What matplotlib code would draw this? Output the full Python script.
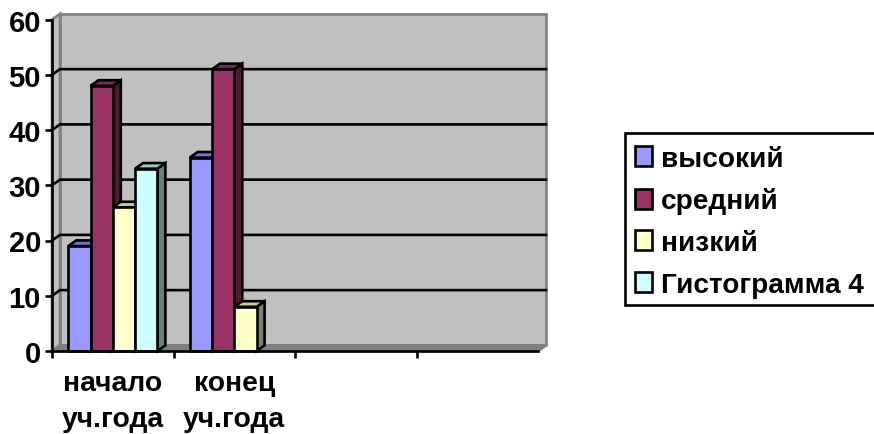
import numpy as np
import matplotlib
matplotlib.use("Agg")
import matplotlib.pyplot as plt
from matplotlib.patches import Patch, Polygon, Rectangle

plt.rcParams['font.family'] = ['Liberation Sans', 'DejaVu Sans']
plt.rcParams['font.weight'] = 'bold'

# data
categories = ["начало\nуч.года", "конец\nуч.года", "", ""]
series_names = ["высокий", "средний", "низкий", "Гистограмма 4"]
vysokiy = [19, 35]
sredniy = [48, 51]
nizkiy = [26, 8]
gistogramma4 = [33, np.nan]
y_ticks = [0, 10, 20, 30, 40, 50, 60]

series = [vysokiy, sredniy, nizkiy, gistogramma4]
colors = ["#9999FF", "#993366", "#FFFFCC", "#CCFFFF"]
tops = ["#7474C8", "#7A2850", "#C8C8A0", "#99CCCC"]
sides = ["#4D4D80", "#4D1A33", "#808066", "#668080"]

W, H = 874, 435
fig = plt.figure(figsize=(W / 100, H / 100), dpi=100)
ax = fig.add_axes([52 / W, 1 - 352 / H, 486 / W, 331.5 / H])
ax.set_xlim(0, 4)
ax.set_ylim(0, 60)
ax.patch.set_visible(False)

# fake 3d depth, in data units
dx = 8 / 121.5
dy = 5.6 / 5.525
lw = 1.9

# walls
ax.add_patch(Polygon([(dx, dy), (4 + dx, dy), (4 + dx, 60 + dy), (dx, 60 + dy)],
                     fc="#C0C0C0", ec="#808080", lw=lw, clip_on=False, zorder=1))
ax.add_patch(Polygon([(0, 0), (dx, dy), (dx, 60 + dy), (0, 60)],
                     fc="#C0C0C0", ec="#808080", lw=lw, clip_on=False, zorder=1))
ax.add_patch(Polygon([(0, 0), (4, 0), (4 + dx, dy), (dx, dy)],
                     fc="#808080", ec="#808080", lw=lw, clip_on=False, zorder=1.5))

# gridlines run over the side wall and the back wall
for v in y_ticks[1:-1]:
    ax.plot([0, dx, 4 + dx], [v, v + dy, v + dy], color="black", lw=lw,
            clip_on=False, zorder=2, solid_joinstyle="miter")

# bars
bar_w = 22.3 / 121.5
start = 16.2 / 121.5
for i, (vals, c, t, s) in enumerate(zip(series, colors, tops, sides)):
    pos = np.arange(len(vals)) + start + i * bar_w
    for x0, v in zip(pos, vals):
        if np.isnan(v):
            continue
        x1 = x0 + bar_w
        z = 3 + i * 0.1
        ax.add_patch(Polygon([(x1, 0), (x1 + dx, dy), (x1 + dx, v + dy), (x1, v)],
                             fc=s, ec="black", lw=lw, zorder=z, clip_on=False))
        ax.add_patch(Polygon([(x0, v), (x1, v), (x1 + dx, v + dy), (x0 + dx, v + dy)],
                             fc=t, ec="black", lw=lw, zorder=z, clip_on=False))
    ax.bar(pos, vals, width=bar_w, align="edge", color=c, edgecolor="black",
           linewidth=lw, zorder=3 + i * 0.1 + 0.05, clip_on=False)

# axes
for name in ["top", "right"]:
    ax.spines[name].set_visible(False)
for name in ["left", "bottom"]:
    ax.spines[name].set_linewidth(lw)
    ax.spines[name].set_zorder(6)
ax.set_yticks(y_ticks)
ax.set_xticks(np.arange(0, 4))
ax.set_xticklabels([])
ax.set_xticks(np.arange(len(categories)) + 0.5, minor=True)
ax.set_xticklabels(categories, minor=True, fontsize=20.3, linespacing=1.5)
ax.tick_params(axis="x", which="major", length=5, width=lw)
ax.tick_params(axis="x", which="minor", length=0, pad=14)
ax.tick_params(axis="y", length=5, width=lw, labelsize=21, pad=3)

# legend frame runs off the right edge of the image
fig.add_artist(Rectangle((625 / W, 1 - 306 / H), 260 / W, 172 / H,
                         transform=fig.transFigure, fc="white", ec="black", lw=lw))
handles = [Patch(fc=c, ec="black", lw=lw) for c in colors]
fig.legend(handles, series_names, loc="upper left",
           bbox_to_anchor=(629 / W, 1 - 141 / H), frameon=False, fontsize=20.2,
           handlelength=0.62, handleheight=0.72, handletextpad=0.33,
           labelspacing=0.56, borderaxespad=0, borderpad=0.2)

fig.savefig("out.png", dpi=100)
